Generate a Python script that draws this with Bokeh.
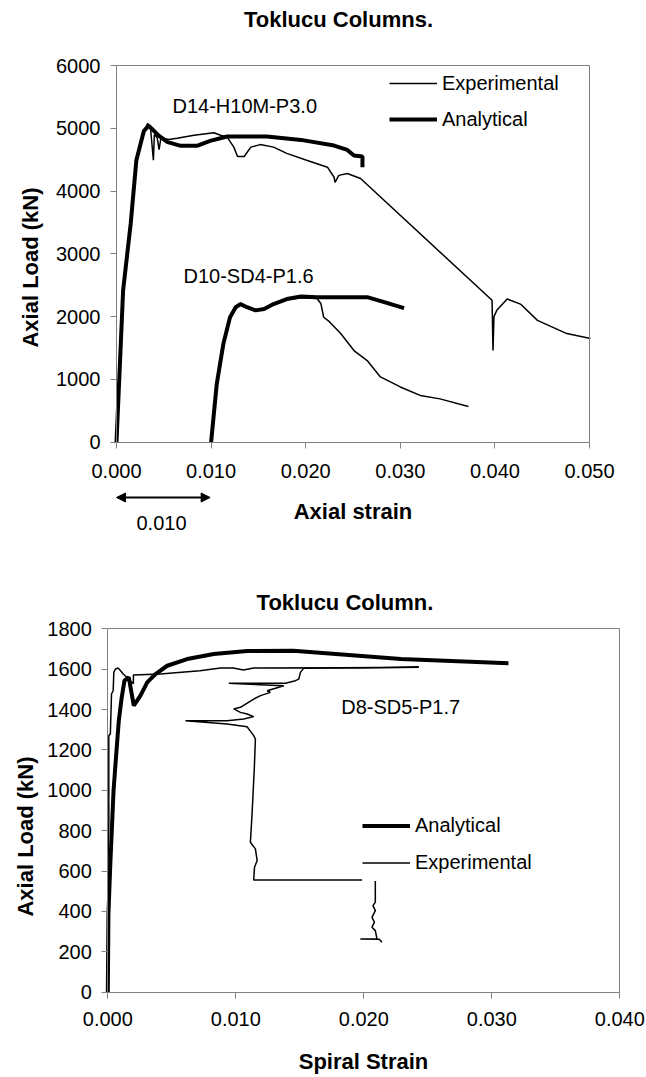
import math
from bokeh.plotting import figure
from bokeh.models import (Range1d, FixedTicker, PrintfTickFormatter, Legend, LegendItem,
                          Label, Arrow, NormalHead, LinearAxis)
from bokeh.embed import file_html
from bokeh.resources import INLINE

FONT = "Liberation Sans"
GRAY = "#808080"

# ---------------- Top chart data (Axial strain vs Axial load, kN) ----------------
top_title = "Toklucu Columns."
top_xlabel = "Axial strain"
top_ylabel = "Axial Load (kN)"
top_xticks = [0.0, 0.01, 0.02, 0.03, 0.04, 0.05]
top_yticks = [0, 1000, 2000, 3000, 4000, 5000, 6000]

d14_exp_x = [0.0, 0.0007, 0.0015, 0.0021, 0.0029, 0.0033, 0.0036, 0.0039, 0.0040, 0.0043,
             0.0045, 0.0047, 0.0055, 0.0064, 0.0082, 0.0103, 0.0110, 0.0117, 0.0124, 0.0128,
             0.0135, 0.0142, 0.0152, 0.0166, 0.0180, 0.0201, 0.0223, 0.0230, 0.0231, 0.0235,
             0.0244, 0.0258, 0.0397, 0.0398, 0.0399, 0.0402, 0.0413, 0.0427, 0.0445, 0.0476,
             0.0501]
d14_exp_y = [0, 2400, 3480, 4480, 4960, 5080, 5000, 4490, 4900, 4850,
             4660, 4850, 4820, 4840, 4890, 4930, 4890, 4860, 4700, 4550,
             4550, 4700, 4740, 4700, 4600, 4490, 4380, 4220, 4140, 4250,
             4280, 4200, 2260, 1460, 2000, 2100, 2280, 2200, 1940, 1730,
             1650]

d14_ana_x = [0.0, 0.0007, 0.0015, 0.0021, 0.0029, 0.0034, 0.0045, 0.0054, 0.0068, 0.0085,
             0.0099, 0.0117, 0.0159, 0.0195, 0.0230, 0.0244, 0.0251, 0.0260, 0.0260]
d14_ana_y = [0, 2420, 3480, 4490, 4960, 5040, 4880, 4780, 4720, 4720,
             4800, 4870, 4870, 4815, 4725, 4655, 4565, 4550, 4380]

d10_exp_x = [0.0100, 0.0106, 0.0113, 0.0120, 0.0126, 0.0131, 0.0138, 0.0147, 0.0156, 0.0166,
             0.0180, 0.0195, 0.0212, 0.0216, 0.0219, 0.0225, 0.0237, 0.0251, 0.0265, 0.0279,
             0.0300, 0.0321, 0.0342, 0.0372]
d10_exp_y = [0, 950, 1590, 2000, 2160, 2210, 2150, 2110, 2130, 2210,
             2270, 2300, 2290, 2210, 1990, 1920, 1730, 1460, 1300, 1040,
             880, 745, 690, 570]

d10_ana_x = [0.0100, 0.0106, 0.0113, 0.0120, 0.0126, 0.0131, 0.0138, 0.0147, 0.0156, 0.0166,
             0.0180, 0.0195, 0.0212, 0.0265, 0.0283, 0.0304]
d10_ana_y = [0, 930, 1570, 1990, 2150, 2200, 2150, 2100, 2120, 2200,
             2280, 2320, 2310, 2310, 2230, 2135]

arrow_span = [0.0, 0.0099]
arrow_text = "0.010"

# ---------------- Bottom chart data (Spiral strain vs Axial load, kN) ----------------
bot_title = "Toklucu Column."
bot_xlabel = "Spiral Strain"
bot_ylabel = "Axial Load (kN)"
bot_xticks = [0.0, 0.01, 0.02, 0.03, 0.04]
bot_yticks = [0, 200, 400, 600, 800, 1000, 1200, 1400, 1600, 1800]

d8_ana_x = [0.0, 0.00005, 0.0002, 0.00045, 0.00068, 0.00086, 0.00107, 0.0013, 0.00164, 0.00203,
            0.00255, 0.00308, 0.00373, 0.00464, 0.0062, 0.00828, 0.0109, 0.0145, 0.0229, 0.0313]
d8_ana_y = [0, 390, 640, 1000, 1197, 1345, 1452, 1543, 1559, 1419,
            1469, 1535, 1576, 1617, 1650, 1675, 1690, 1691, 1650, 1629]

d8_exp_x = [0.0, 0.00002, 0.00008, 0.00008, 0.0002, 0.00029, 0.00042, 0.00047, 0.0006, 0.0008,
            0.0010, 0.0012, 0.0015, 0.0018, 0.0020, 0.0020, 0.0041, 0.0072, 0.0088, 0.0098,
            0.0106, 0.0114, 0.0180, 0.0243, 0.0200, 0.0153, 0.01505, 0.01492, 0.01466, 0.01388,
            0.00945, 0.01375, 0.01245, 0.0127, 0.01193, 0.0114, 0.01036, 0.00984, 0.01036, 0.01088,
            0.0114, 0.01062, 0.00932, 0.00607, 0.00932, 0.01088, 0.0114, 0.01153, 0.01145, 0.01127,
            0.01114, 0.01153, 0.01167, 0.01146, 0.0114, 0.0209, 0.0209, 0.0209, 0.02072, 0.0209,
            0.02064, 0.02083, 0.02064, 0.0209, 0.02103, 0.01973, 0.0212, 0.02142]
d8_exp_y = [0, 650, 840, 1270, 1280, 1477, 1493, 1584, 1601, 1606,
            1592, 1576, 1559, 1540, 1528, 1571, 1576, 1592, 1606, 1606,
            1596, 1606, 1607, 1609, 1606, 1604, 1584, 1551, 1543, 1530,
            1530, 1518, 1493, 1485, 1469, 1452, 1411, 1403, 1386, 1378,
            1365, 1353, 1345, 1345, 1328, 1315, 1271, 1254, 1114, 883,
            743, 710, 652, 619, 556, 556, 536, 446, 429, 404,
            371, 347, 322, 305, 264, 264, 262, 248]

# ---------------- layout: pixel anchors of each chart's plotting box ----------------
W = 646
H1 = 560            # height of upper canvas
H2 = 1077 - H1      # height of lower canvas

# upper chart: x=0 at px 116, x=0.05 at px 589 ; y=0 at px 441.7, y=6000 at px 65
ax1 = dict(x0=0.0, x1=0.05, px0=116.0, px1=589.0, y0=0.0, y1=6000.0, py0=441.7, py1=65.0, top=0)
# lower chart: x=0 at px 107.3, x=0.04 at px 619.3 ; y=0 at px 991.7, y=1800 at px 628.3
ax2 = dict(x0=0.0, x1=0.04, px0=107.3, px1=619.3, y0=0.0, y1=1800.0, py0=991.7, py1=628.3, top=H1)


def make_mappers(a):
    sx = (a["x1"] - a["x0"]) / (a["px1"] - a["px0"])
    sy = (a["y1"] - a["y0"]) / (a["py0"] - a["py1"])
    fx = lambda px: a["x0"] + (px - a["px0"]) * sx
    fy = lambda py: a["y0"] + (a["py0"] - py) * sy
    return fx, fy


def make_fig(a, h):
    fx, fy = make_mappers(a)
    p = figure(width=W, height=h, x_range=Range1d(fx(0), fx(W)),
               y_range=Range1d(fy(a["top"] + h), fy(a["top"])),
               output_backend="svg", toolbar_location=None, min_border=0)
    p.outline_line_color = None
    p.xgrid.visible = False
    p.ygrid.visible = False
    return p, fx, fy


def style_axis(ax):
    ax.axis_line_color = GRAY
    ax.major_tick_line_color = GRAY
    ax.minor_tick_line_color = None
    ax.major_tick_in = 0
    ax.major_tick_out = 6
    ax.major_label_text_font = FONT
    ax.major_label_text_font_size = "20px"
    ax.major_label_text_color = "black"
    ax.axis_label_text_font = FONT
    ax.axis_label_text_font_size = "22px"
    ax.axis_label_text_font_style = "bold"
    ax.axis_label_text_color = "black"


def setup_axes(p, a, xlabel, xticks, yticks, xtick_so, xlab_so):
    xa, ya = p.xaxis[0], p.yaxis[0]
    style_axis(xa)
    style_axis(ya)
    xa.fixed_location = a["y0"]
    ya.fixed_location = a["x0"]
    xa.bounds = (a["x0"], a["x1"])
    ya.bounds = (a["y0"], a["y1"])
    xa.ticker = FixedTicker(ticks=xticks)
    ya.ticker = FixedTicker(ticks=yticks)
    xa.formatter = PrintfTickFormatter(format="%.3f")
    xa.axis_label = xlabel
    xa.major_label_standoff = xtick_so
    ya.major_label_standoff = 10
    xa.axis_label_standoff = xlab_so
    # plot-area border: top and right edges
    top_ax = LinearAxis(ticker=FixedTicker(ticks=[]), axis_line_color=GRAY,
                        major_tick_line_color=None, minor_tick_line_color=None,
                        fixed_location=a["y1"], bounds=(a["x0"], a["x1"]))
    right_ax = LinearAxis(ticker=FixedTicker(ticks=[]), axis_line_color=GRAY,
                          major_tick_line_color=None, minor_tick_line_color=None,
                          fixed_location=a["x1"], bounds=(a["y0"], a["y1"]))
    p.add_layout(top_ax, "above")
    p.add_layout(right_ax, "right")


def text(p, x, y, s, size="20px", bold=False, align="left", angle=0.0):
    p.add_layout(Label(x=x, y=y, text=s, text_font=FONT, text_font_size=size,
                       text_font_style="bold" if bold else "normal", text_color="black",
                       text_baseline="middle", text_align=align, angle=angle))


# ---------------- Top figure ----------------
p1, fx1, fy1 = make_fig(ax1, H1)
setup_axes(p1, ax1, top_xlabel, top_xticks, top_yticks, 16, 17)

r_e1 = p1.line(d14_exp_x, d14_exp_y, line_color="black", line_width=1.5)
r_e2 = p1.line(d10_exp_x, d10_exp_y, line_color="black", line_width=1.5)
r_a1 = p1.line(d14_ana_x, d14_ana_y, line_color="black", line_width=4)
r_a2 = p1.line(d10_ana_x, d10_ana_y, line_color="black", line_width=4)

text(p1, fx1(338), fy1(18.5), top_title, size="22px", bold=True, align="center")
text(p1, fx1(30), fy1(267), top_ylabel, size="22px", bold=True, align="center", angle=math.pi / 2)
text(p1, fx1(172), fy1(105), "D14-H10M-P3.0")
text(p1, fx1(183), fy1(275), "D10-SD4-P1.6")

p1.add_layout(Arrow(x_start=arrow_span[0], y_start=fy1(497), x_end=arrow_span[1], y_end=fy1(497),
                    line_width=2, line_color="black",
                    start=NormalHead(size=9, fill_color="black", line_color="black"),
                    end=NormalHead(size=9, fill_color="black", line_color="black")))
text(p1, fx1(161), fy1(522), arrow_text, align="center")

leg1 = Legend(items=[LegendItem(label="Experimental", renderers=[r_e1]),
                     LegendItem(label="Analytical", renderers=[r_a1])],
              location=(389, H1 - 83 - 51), glyph_width=48, glyph_height=30,
              label_height=30, label_standoff=5, spacing=6, padding=0, margin=0,
              border_line_color=None, background_fill_alpha=0,
              label_text_font=FONT, label_text_font_size="20px", label_text_color="black")
p1.add_layout(leg1)

# ---------------- Bottom figure ----------------
p2, fx2, fy2 = make_fig(ax2, H2)
setup_axes(p2, ax2, bot_xlabel, bot_xticks, bot_yticks, 14, 19)

r_e3 = p2.line(d8_exp_x, d8_exp_y, line_color="black", line_width=1.5)
r_a3 = p2.line(d8_ana_x, d8_ana_y, line_color="black", line_width=4)

text(p2, fx2(344.5), fy2(602), bot_title, size="22px", bold=True, align="center")
text(p2, fx2(25), fy2(836), bot_ylabel, size="22px", bold=True, align="center", angle=math.pi / 2)
text(p2, fx2(340.7), fy2(706), "D8-SD5-P1.7")

leg2 = Legend(items=[LegendItem(label="Analytical", renderers=[r_a3]),
                     LegendItem(label="Experimental", renderers=[r_e3])],
              location=(362, round(1077 - 862.7 - 18.5)), glyph_width=48, glyph_height=37,
              label_height=37, label_standoff=5, spacing=0, padding=0, margin=0,
              border_line_color=None, background_fill_color="white", background_fill_alpha=1.0,
              label_text_font=FONT, label_text_font_size="20px", label_text_color="black")
p2.add_layout(leg2)

open("out.html", "w").write(file_html([p1, p2], INLINE))
